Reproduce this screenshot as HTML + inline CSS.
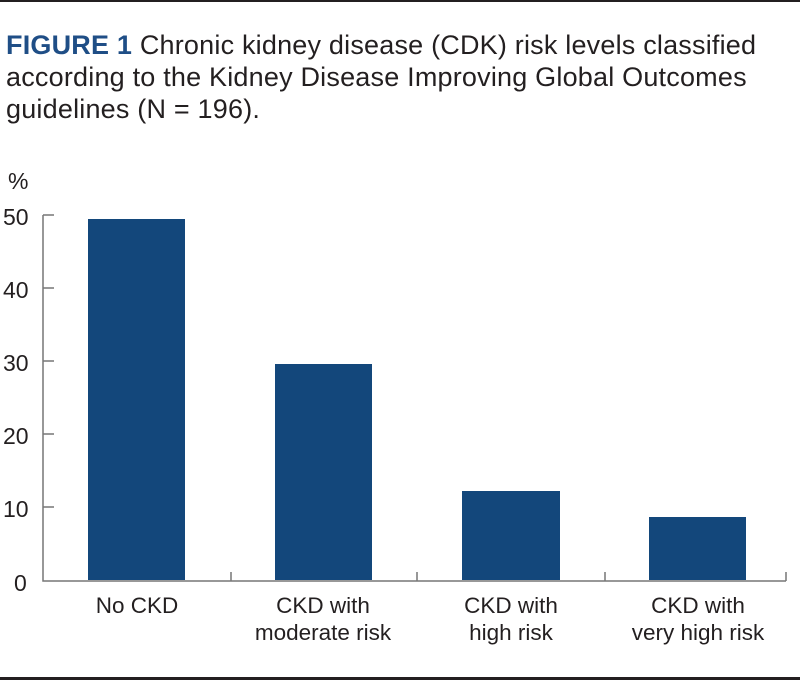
<!DOCTYPE html>
<html><head><style>
body{margin:0;background:#fff;width:800px;height:681px;overflow:hidden;position:relative;font-family:"Liberation Sans",sans-serif;color:#231f20}
.t{position:absolute;left:6px;top:29px;font-size:27px;line-height:32px;letter-spacing:0.2px}
.t b{color:#1f4e86}
</style></head><body>
<div style="position:absolute;left:0;top:0;width:800px;height:2px;background:#231f20"></div>
<div class="t"><b>FIGURE 1</b> Chronic kidney disease (CDK) risk levels classified<br>according to the Kidney Disease Improving Global Outcomes<br>guidelines (N = 196).</div>
<svg width="800" height="681" style="position:absolute;left:0;top:0" font-family="Liberation Sans, sans-serif" fill="#231f20">
<text x="8" y="189" font-size="23">%</text>
<g font-size="23" text-anchor="start">
<text x="3" y="225">50</text><text x="3" y="298">40</text><text x="3" y="371">30</text><text x="3" y="444">20</text><text x="3" y="517">10</text><text x="14" y="591">0</text>
</g>
<g stroke="#777" stroke-width="1.5" fill="none">
<path d="M43 215V581H786"/>
<path d="M43 215h11M43 288h11M43 361h11M43 434h11M43 507h11"/>
<path d="M231 581v-9M417 581v-9M605 581v-9M786 581v-9"/>
</g>
<g fill="#13477b">
<rect x="88" y="219" width="97" height="361"/>
<rect x="275" y="364" width="97" height="216"/>
<rect x="462" y="491" width="98" height="89"/>
<rect x="649" y="517" width="97" height="63"/>
</g>
<g font-size="22.5" text-anchor="middle">
<text x="137" y="613">No CKD</text>
<text x="323" y="613">CKD with</text><text x="323" y="640">moderate risk</text>
<text x="511" y="613">CKD with</text><text x="511" y="640">high risk</text>
<text x="698" y="613">CKD with</text><text x="698" y="640">very high risk</text>
</g>
<rect x="0" y="677" width="800" height="3" fill="#231f20"/>
</svg>
</body></html>
